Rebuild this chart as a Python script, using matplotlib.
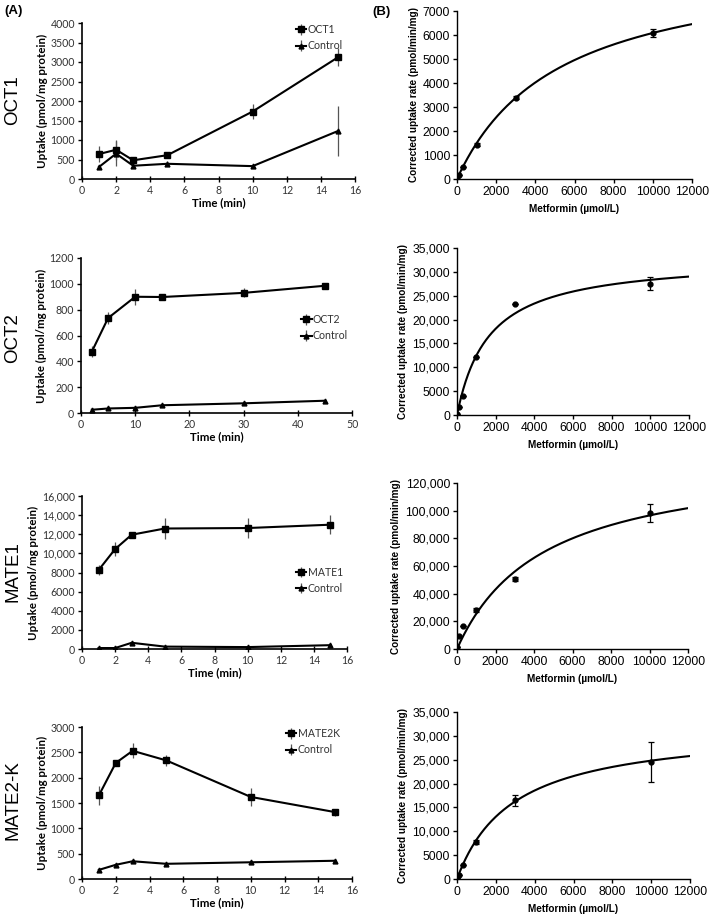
import matplotlib
matplotlib.use("Agg")
import matplotlib.pyplot as plt
import numpy as np
from matplotlib.ticker import FuncFormatter, MultipleLocator

W, H = 709, 918

# ---- panel A: time course data ----
oct1_time = [1, 2, 3, 5, 10, 15]
oct1_vals = [640, 750, 480, 610, 1730, 3120]
oct1_err = [200, 250, 60, 50, 200, 230]
oct1_ctrl = [310, 650, 340, 390, 330, 1230]
oct1_ctrl_err = [50, 320, 30, 60, 20, 640]

oct2_time = [2, 5, 10, 15, 30, 45]
oct2_vals = [475, 735, 900, 898, 930, 985]
oct2_err = [45, 45, 60, 25, 35, 20]
oct2_ctrl = [25, 35, 40, 60, 75, 95]
oct2_ctrl_err = [3, 3, 3, 3, 3, 3]

mate1_time = [1, 2, 3, 5, 10, 15]
mate1_vals = [8250, 10450, 11950, 12600, 12650, 13000]
mate1_err = [500, 700, 200, 1050, 1050, 1000]
mate1_ctrl = [100, 100, 650, 250, 200, 400]
mate1_ctrl_err = [30, 30, 60, 40, 40, 50]

mate2k_time = [1, 2, 3, 5, 10, 15]
mate2k_vals = [1650, 2290, 2530, 2340, 1620, 1320]
mate2k_err = [180, 40, 150, 100, 170, 70]
mate2k_ctrl = [180, 280, 350, 300, 330, 360]
mate2k_ctrl_err = [20, 20, 20, 20, 20, 20]

# ---- panel B: concentration dependence ----
metformin = [0, 100, 300, 1000, 3000, 10000]
oct1_rate = [0, 150, 480, 1420, 3380, 6080]
oct1_rate_err = [0, 0, 0, 60, 60, 180]
oct2_rate = [200, 1700, 4000, 12100, 23200, 27500]
oct2_rate_err = [0, 0, 0, 0, 0, 1400]
mate1_rate = [1500, 9500, 16500, 28000, 50500, 98500]
mate1_rate_err = [0, 0, 0, 1500, 1500, 6500]
mate2k_rate = [200, 900, 2900, 7700, 16500, 24600]
mate2k_rate_err = [0, 0, 0, 400, 1200, 4200]

# Michaelis-Menten fit parameters (Vmax, Km)
oct1_fit = (9250, 5200)
oct2_fit = (33000, 1650)
mate1_fit = (140000, 4500)
mate2k_fit = (32000, 2900)


def rect(x0, y0, x1, y1):
    return [x0 / W, 1 - y1 / H, (x1 - x0) / W, (y1 - y0) / H]


def thousands(v, pos):
    if abs(v) >= 10000:
        return f"{v:,.0f}"
    return f"{v:.0f}"


def time_panel(fig, box, t, vals, err, ctrl, ctrl_err, name, ymax, ystep,
               xmax, xstep, legend_loc, comma=False):
    ax = fig.add_axes(rect(*box))
    ax.errorbar(t, vals, yerr=err, color="black", marker="s", ms=4, lw=1.5,
                ecolor="#555555", elinewidth=0.9, capsize=0, label=name)
    ax.errorbar(t, ctrl, yerr=ctrl_err, color="black", marker="^", ms=3.5, lw=1.5,
                ecolor="#555555", elinewidth=0.9, capsize=0, label="Control")
    ax.set_xlim(0, xmax)
    ax.set_ylim(0, ymax)
    ax.xaxis.set_major_locator(MultipleLocator(xstep))
    ax.yaxis.set_major_locator(MultipleLocator(ystep))
    if comma:
        ax.yaxis.set_major_formatter(FuncFormatter(thousands))
    for s in ["top", "right"]:
        ax.spines[s].set_visible(False)
    for s in ["left", "bottom"]:
        ax.spines[s].set_linewidth(1.2)
    ax.tick_params(axis="y", direction="out", length=3, width=1, labelsize=7.6, pad=2)
    ax.tick_params(axis="x", direction="inout", length=4, width=1, labelsize=7.6, pad=2)
    for lab in ax.get_xticklabels() + ax.get_yticklabels():
        lab.set_fontfamily("Lato")
        lab.set_color("#333333")
    ax.set_xlabel("Time (min)", fontfamily="Lato", fontweight="bold", fontsize=8.3, labelpad=1)
    ax.set_ylabel("Uptake (pmol/mg protein)", fontfamily="Lato", fontweight="bold",
                  fontsize=8.3, labelpad=2)
    leg = ax.legend(loc=legend_loc[0], bbox_to_anchor=legend_loc[1], frameon=False,
                    handlelength=1.0, handletextpad=0.1, labelspacing=0.5,
                    prop={"family": "Lato", "size": 7.6}, borderaxespad=0)
    for txt in leg.get_texts():
        txt.set_color("#333333")
    return ax


def kinetic_panel(fig, box, conc, rate, err, fit, ymax, ystep, comma=False):
    ax = fig.add_axes(rect(*box))
    vmax, km = fit
    xs = np.linspace(0, 12000, 400)
    ax.plot(xs, vmax * xs / (km + xs), color="black", lw=1.5)
    ax.errorbar(conc, rate, yerr=err, fmt="o", color="black", ms=3.5,
                elinewidth=0.9, capsize=2.5, capthick=0.9)
    ax.set_xlim(0, 12000)
    ax.set_ylim(0, ymax)
    ax.xaxis.set_major_locator(MultipleLocator(2000))
    ax.yaxis.set_major_locator(MultipleLocator(ystep))
    if comma:
        ax.yaxis.set_major_formatter(FuncFormatter(thousands))
    for s in ["top", "right"]:
        ax.spines[s].set_visible(False)
    for s in ["left", "bottom"]:
        ax.spines[s].set_linewidth(1.0)
    ax.tick_params(direction="out", length=3, width=1, labelsize=8.8, pad=2)
    for lab in ax.get_xticklabels() + ax.get_yticklabels():
        lab.set_fontfamily("Liberation Sans")
    ax.set_xlabel("Metformin (µmol/L)", fontfamily="Liberation Sans",
                  fontweight="bold", fontsize=7.2, labelpad=4)
    ax.set_ylabel("Corrected uptake rate (pmol/min/mg)", fontfamily="Liberation Sans",
                  fontweight="bold", fontsize=7.2, labelpad=3)
    return ax


fig = plt.figure(figsize=(W / 100, H / 100), dpi=100)

time_panel(fig, (82, 23, 355, 179), oct1_time, oct1_vals, oct1_err, oct1_ctrl,
           oct1_ctrl_err, "OCT1", 4000, 500, 16, 2, ("upper right", (0.97, 1.02)))
time_panel(fig, (81, 258, 352, 413), oct2_time, oct2_vals, oct2_err, oct2_ctrl,
           oct2_ctrl_err, "OCT2", 1200, 200, 50, 10, ("center right", (1.0, 0.55)))
time_panel(fig, (82, 496, 347, 649), mate1_time, mate1_vals, mate1_err, mate1_ctrl,
           mate1_ctrl_err, "MATE1", 16000, 2000, 16, 2, ("center right", (1.0, 0.45)),
           comma=True)
time_panel(fig, (82, 727, 352, 879), mate2k_time, mate2k_vals, mate2k_err, mate2k_ctrl,
           mate2k_ctrl_err, "MATE2K", 3000, 500, 16, 2, ("upper right", (0.97, 1.02)))

kinetic_panel(fig, (457, 11, 692, 179), metformin, oct1_rate, oct1_rate_err, oct1_fit,
              7000, 1000)
kinetic_panel(fig, (457, 248, 689, 415), metformin, oct2_rate, oct2_rate_err, oct2_fit,
              35000, 5000, comma=True)
kinetic_panel(fig, (457, 483, 688, 649), metformin, mate1_rate, mate1_rate_err, mate1_fit,
              120000, 20000, comma=True)
kinetic_panel(fig, (457, 712, 690, 879), metformin, mate2k_rate, mate2k_rate_err, mate2k_fit,
              35000, 5000, comma=True)

# row labels
for label, yc in [("OCT1", 100), ("OCT2", 338), ("MATE1", 572), ("MATE2-K", 800)]:
    fig.text(13 / W, 1 - yc / H, label, rotation=90, ha="center", va="center",
             fontsize=13.5, fontfamily="Liberation Sans")

fig.text(4 / W, 1 - 11 / H, "(A)", fontsize=9.5, fontweight="bold",
         fontfamily="Liberation Sans", ha="left", va="center")
fig.text(372 / W, 1 - 12 / H, "(B)", fontsize=9.5, fontweight="bold",
         fontfamily="Liberation Sans", ha="left", va="center")

fig.savefig("out.png", dpi=100)
